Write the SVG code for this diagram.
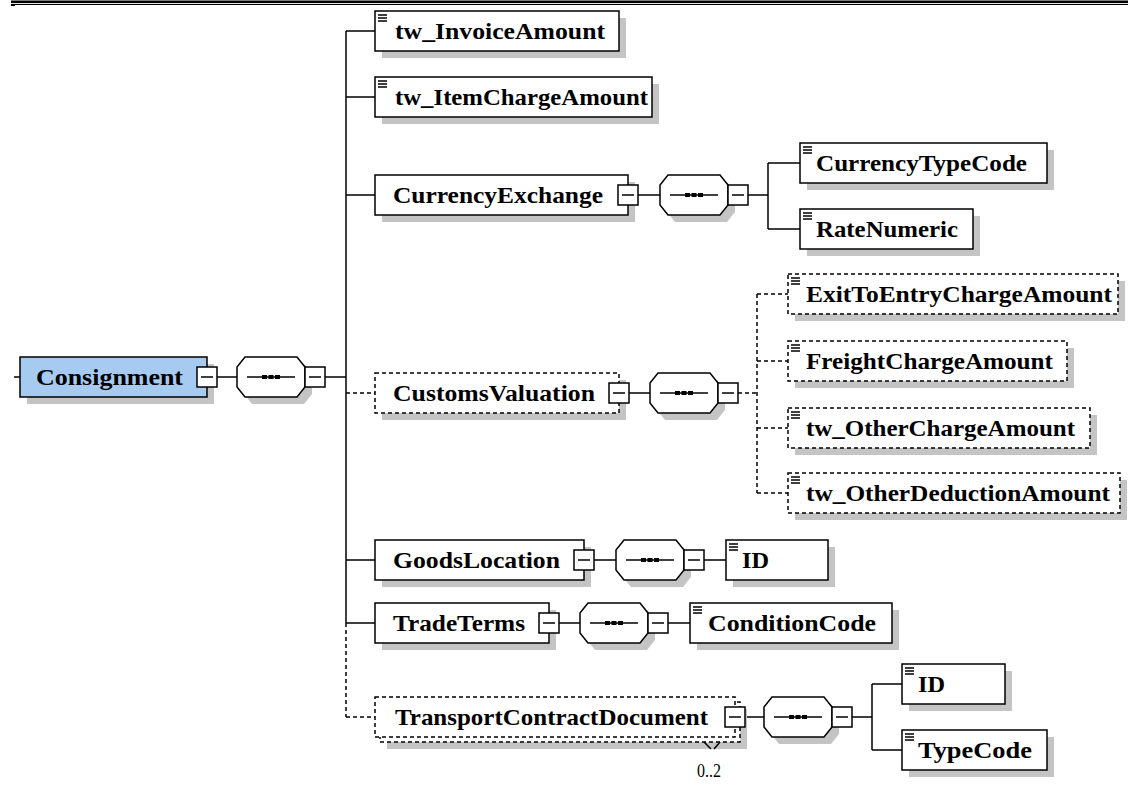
<svg xmlns="http://www.w3.org/2000/svg" xmlns:xlink="http://www.w3.org/1999/xlink" width="1128" height="785" viewBox="0 0 1128 785">
<style>
.box{fill:#fff;stroke:#000;stroke-width:1.5}
.opt{fill:#fff;stroke:#000;stroke-width:1.5;stroke-dasharray:4 3}
.root{fill:#a6caf0;stroke:#000;stroke-width:1.5}
.sh{fill:#c4c4c4}
.lbl{font-family:"Liberation Serif",serif;font-weight:bold;font-size:24px;fill:#000}
.occ{font-family:"Liberation Serif",serif;font-size:18px;fill:#000}
.ln{stroke:#000;stroke-width:1.5;fill:none}
.dl{stroke:#000;stroke-width:1.5;fill:none;stroke-dasharray:4 3}
</style>
<defs>
<g id="mb"><rect x="0" y="0" width="20" height="20" fill="#fff" stroke="#000" stroke-width="1.5"/><line x1="4" y1="10" x2="16" y2="10" stroke="#000" stroke-width="1.5"/></g>
<g id="ic"><path d="M3 4H12M3 7H12M3 10H12" stroke="#000" stroke-width="1.4" fill="none"/></g>
<g id="seq">
<polygon class="sh" points="15,7 67,7 75,17 75,37 67,47 15,47 7,37 7,17"/>
<polygon fill="#fff" stroke="#000" stroke-width="1.5" points="8,0 60,0 68,10 68,30 60,40 8,40 0,30 0,10"/>
<line x1="10" y1="20" x2="58" y2="20" stroke="#000" stroke-width="1.5"/>
<rect x="25" y="18" width="5" height="4" fill="#000"/><rect x="31.5" y="18" width="5" height="4" fill="#000"/><rect x="38" y="18" width="5" height="4" fill="#000"/>
<use xlink:href="#mb" x="68" y="10"/>
</g>
</defs>

<g id="header">
<rect x="11" y="0.5" width="1117" height="2.6" fill="#000"/>
<rect x="11" y="4" width="1117" height="1" fill="#000"/>
<rect x="11" y="4" width="4" height="2" fill="#000"/>
</g>

<g id="connectors">
<line class="ln" x1="14" y1="377" x2="20" y2="377"/>
<line class="ln" x1="217" y1="377" x2="237" y2="377"/>
<line class="ln" x1="325" y1="377" x2="346" y2="377"/>
<line class="ln" x1="346" y1="31" x2="346" y2="623"/>
<line class="dl" x1="346" y1="623" x2="346" y2="717"/>
<path class="ln" d="M346 31H375M346 97H375M346 195H375M346 560H375M346 623H375"/>
<path class="dl" d="M346 393H375M346 717H375"/>
<line class="ln" x1="638" y1="195" x2="660" y2="195"/>
<path class="ln" d="M748 195H768M768 163V229M768 163H800M768 229H800"/>
<line class="ln" x1="629" y1="393" x2="650" y2="393"/>
<path class="dl" d="M738 393H757M757 294V493M757 294H788M757 361H788M757 428H788M757 493H788"/>
<line class="ln" x1="594" y1="560" x2="616" y2="560"/>
<line class="ln" x1="704" y1="560" x2="726" y2="560"/>
<line class="ln" x1="559" y1="623" x2="580" y2="623"/>
<line class="ln" x1="668" y1="623" x2="690" y2="623"/>
<line class="ln" x1="745" y1="717" x2="764" y2="717"/>
<path class="ln" d="M852 717H872M872 684V750M872 684H902M872 750H902"/>
</g>

<g id="n-consignment">
<rect class="sh" x="27" y="364" width="187" height="40"/>
<rect class="root" x="20" y="357" width="187" height="40"/>
<text class="lbl" x="36" y="385" textLength="147" lengthAdjust="spacingAndGlyphs">Consignment</text>
<use xlink:href="#mb" x="197" y="367"/>
</g>
<g id="s-consignment"><use xlink:href="#seq" x="237" y="357"/></g>

<g id="n-tw_InvoiceAmount">
<rect class="sh" x="382" y="18" width="244" height="40"/>
<rect class="box" x="375" y="11" width="244" height="40"/>
<use xlink:href="#ic" x="375" y="11"/>
<text class="lbl" x="395" y="39" textLength="210" lengthAdjust="spacingAndGlyphs">tw_InvoiceAmount</text>
</g>

<g id="n-tw_ItemChargeAmount">
<rect class="sh" x="382" y="84" width="277" height="40"/>
<rect class="box" x="375" y="77" width="277" height="40"/>
<use xlink:href="#ic" x="375" y="77"/>
<text class="lbl" x="395" y="105" textLength="253" lengthAdjust="spacingAndGlyphs">tw_ItemChargeAmount</text>
</g>

<g id="n-CurrencyExchange">
<rect class="sh" x="382" y="182" width="253" height="40"/>
<rect class="box" x="375" y="175" width="253" height="40"/>
<text class="lbl" x="393" y="203" textLength="210" lengthAdjust="spacingAndGlyphs">CurrencyExchange</text>
<use xlink:href="#mb" x="618" y="185"/>
</g>
<g id="s-CurrencyExchange"><use xlink:href="#seq" x="660" y="175"/></g>

<g id="n-CurrencyTypeCode">
<rect class="sh" x="807" y="150" width="247" height="40"/>
<rect class="box" x="800" y="143" width="247" height="40"/>
<use xlink:href="#ic" x="800" y="143"/>
<text class="lbl" x="816" y="171" textLength="211" lengthAdjust="spacingAndGlyphs">CurrencyTypeCode</text>
</g>

<g id="n-RateNumeric">
<rect class="sh" x="807" y="216" width="173" height="40"/>
<rect class="box" x="800" y="209" width="173" height="40"/>
<use xlink:href="#ic" x="800" y="209"/>
<text class="lbl" x="816" y="237" textLength="142" lengthAdjust="spacingAndGlyphs">RateNumeric</text>
</g>

<g id="n-CustomsValuation">
<rect class="sh" x="382" y="380" width="244" height="40"/>
<rect class="opt" x="375" y="373" width="244" height="40"/>
<text class="lbl" x="393" y="401" textLength="202" lengthAdjust="spacingAndGlyphs">CustomsValuation</text>
<use xlink:href="#mb" x="609" y="383"/>
</g>
<g id="s-CustomsValuation"><use xlink:href="#seq" x="650" y="373"/></g>

<g id="n-ExitToEntryChargeAmount">
<rect class="sh" x="795" y="281" width="330" height="40"/>
<rect class="opt" x="788" y="274" width="330" height="40"/>
<use xlink:href="#ic" x="788" y="274"/>
<text class="lbl" x="806" y="302" textLength="306" lengthAdjust="spacingAndGlyphs">ExitToEntryChargeAmount</text>
</g>

<g id="n-FreightChargeAmount">
<rect class="sh" x="795" y="348" width="279" height="40"/>
<rect class="opt" x="788" y="341" width="279" height="40"/>
<use xlink:href="#ic" x="788" y="341"/>
<text class="lbl" x="806" y="369" textLength="247" lengthAdjust="spacingAndGlyphs">FreightChargeAmount</text>
</g>

<g id="n-tw_OtherChargeAmount">
<rect class="sh" x="795" y="415" width="302" height="40"/>
<rect class="opt" x="788" y="408" width="302" height="40"/>
<use xlink:href="#ic" x="788" y="408"/>
<text class="lbl" x="806" y="436" textLength="269" lengthAdjust="spacingAndGlyphs">tw_OtherChargeAmount</text>
</g>

<g id="n-tw_OtherDeductionAmount">
<rect class="sh" x="795" y="480" width="332" height="40"/>
<rect class="opt" x="788" y="473" width="332" height="40"/>
<use xlink:href="#ic" x="788" y="473"/>
<text class="lbl" x="806" y="501" textLength="304" lengthAdjust="spacingAndGlyphs">tw_OtherDeductionAmount</text>
</g>

<g id="n-GoodsLocation">
<rect class="sh" x="382" y="547" width="209" height="40"/>
<rect class="box" x="375" y="540" width="209" height="40"/>
<text class="lbl" x="393" y="568" textLength="167" lengthAdjust="spacingAndGlyphs">GoodsLocation</text>
<use xlink:href="#mb" x="574" y="550"/>
</g>
<g id="s-GoodsLocation"><use xlink:href="#seq" x="616" y="540"/></g>

<g id="n-GoodsLocation-ID">
<rect class="sh" x="733" y="547" width="102" height="40"/>
<rect class="box" x="726" y="540" width="102" height="40"/>
<use xlink:href="#ic" x="726" y="540"/>
<text class="lbl" x="742" y="568" textLength="27" lengthAdjust="spacingAndGlyphs">ID</text>
</g>

<g id="n-TradeTerms">
<rect class="sh" x="382" y="610" width="174" height="40"/>
<rect class="box" x="375" y="603" width="174" height="40"/>
<text class="lbl" x="393" y="631" textLength="132" lengthAdjust="spacingAndGlyphs">TradeTerms</text>
<use xlink:href="#mb" x="539" y="613"/>
</g>
<g id="s-TradeTerms"><use xlink:href="#seq" x="580" y="603"/></g>

<g id="n-ConditionCode">
<rect class="sh" x="697" y="610" width="202" height="40"/>
<rect class="box" x="690" y="603" width="202" height="40"/>
<use xlink:href="#ic" x="690" y="603"/>
<text class="lbl" x="708" y="631" textLength="168" lengthAdjust="spacingAndGlyphs">ConditionCode</text>
</g>

<g id="n-TransportContractDocument">
<rect class="sh" x="387" y="709" width="360" height="40"/>
<rect class="opt" x="380" y="702" width="360" height="40"/>
<rect class="opt" x="375" y="697" width="360" height="40"/>
<text class="lbl" x="395" y="725" textLength="313" lengthAdjust="spacingAndGlyphs">TransportContractDocument</text>
<use xlink:href="#mb" x="725" y="707"/>
<path class="ln" d="M704 742L711 749M720 742L714 749" stroke-width="1"/>
<text class="occ" x="697" y="777" textLength="24" lengthAdjust="spacingAndGlyphs">0..2</text>
</g>
<g id="s-TransportContractDocument"><use xlink:href="#seq" x="764" y="697"/></g>

<g id="n-TCD-ID">
<rect class="sh" x="909" y="671" width="103" height="40"/>
<rect class="box" x="902" y="664" width="103" height="40"/>
<use xlink:href="#ic" x="902" y="664"/>
<text class="lbl" x="918" y="692" textLength="27" lengthAdjust="spacingAndGlyphs">ID</text>
</g>

<g id="n-TypeCode">
<rect class="sh" x="909" y="737" width="145" height="40"/>
<rect class="box" x="902" y="730" width="145" height="40"/>
<use xlink:href="#ic" x="902" y="730"/>
<text class="lbl" x="918" y="758" textLength="114" lengthAdjust="spacingAndGlyphs">TypeCode</text>
</g>
</svg>
